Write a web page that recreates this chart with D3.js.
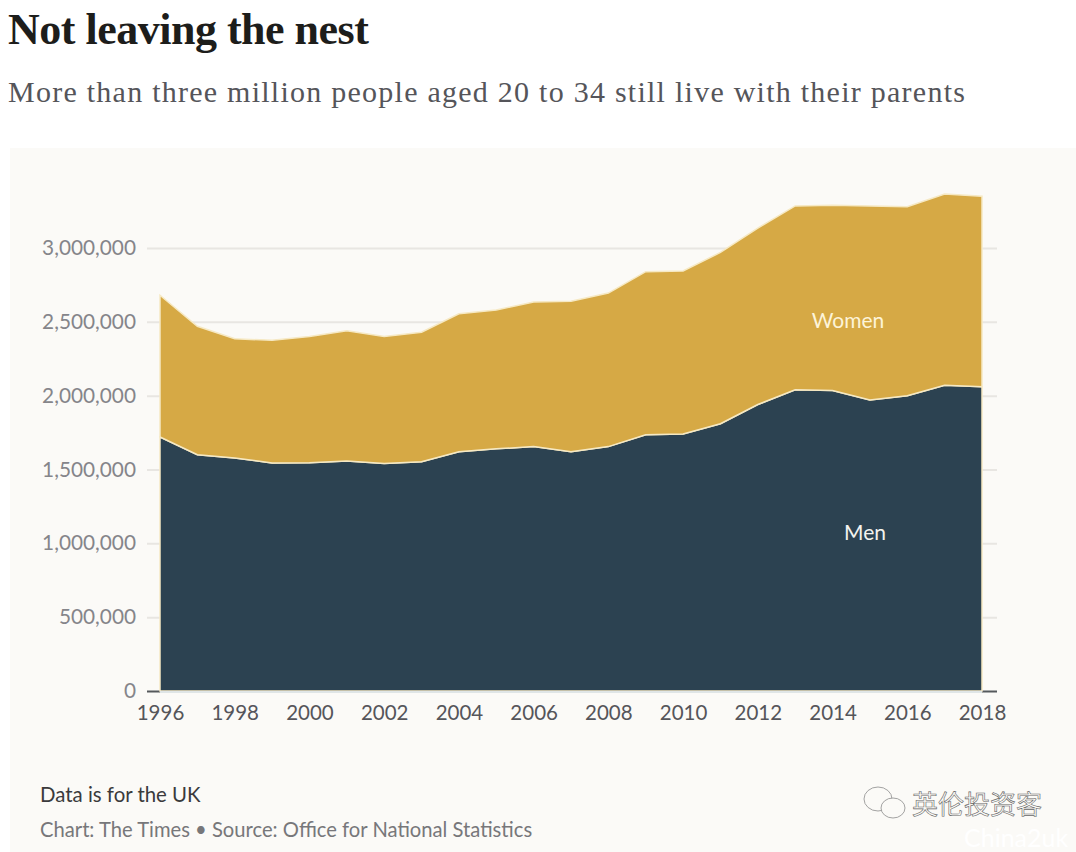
<!DOCTYPE html>
<html>
<head>
<meta charset="utf-8">
<script src="https://cdn.jsdelivr.net/npm/d3@7"></script>
<style>
  html, body { margin: 0; padding: 0; background: #fff; }
  svg { display: block; }
</style>
</head>
<body>
<div id="chart"></div>
<script>
const width = 1076;
const height = 852;

const years = [1996, 1997, 1998, 1999, 2000, 2001, 2002, 2003, 2004, 2005, 2006, 2007,
  2008, 2009, 2010, 2011, 2012, 2013, 2014, 2015, 2016, 2017, 2018];
const men = [1720000, 1600000, 1578000, 1544000, 1545000, 1557000, 1540000, 1553000,
  1620000, 1640000, 1655000, 1620000, 1655000, 1735000, 1740000, 1810000, 1940000,
  2040000, 2035000, 1970000, 2000000, 2070000, 2060000];
const women = [960000, 870000, 807000, 831000, 855000, 883000, 860000, 877000,
  935000, 940000, 980000, 1020000, 1040000, 1105000, 1105000, 1160000, 1195000,
  1245000, 1255000, 1315000, 1280000, 1295000, 1290000];
const yTicks = [0, 500000, 1000000, 1500000, 2000000, 2500000, 3000000];
const xTicks = [1996, 1998, 2000, 2002, 2004, 2006, 2008, 2010, 2012, 2014, 2016, 2018];

const rows = years.map((year, i) => ({ year, men: men[i], women: women[i] }));
const sans = "Lato, 'Open Sans', sans-serif";
const serif = "'Liberation Serif', serif";

const x = d3.scaleLinear().domain([1996, 2018]).range([160, 982]);
const y = d3.scaleLinear().domain([0, 3000000]).range([691, 248]);

const svg = d3.select("#chart").append("svg").attr("width", width).attr("height", height);

svg.append("rect")
  .attr("x", 10).attr("y", 148)
  .attr("width", width - 10).attr("height", height - 148)
  .attr("fill", "#fbfaf7");

svg.append("text")
  .attr("x", 8).attr("y", 44)
  .attr("font-family", serif).attr("font-weight", 700)
  .attr("font-size", 44).attr("letter-spacing", -0.5)
  .attr("fill", "#1d1d1b")
  .text("Not leaving the nest");

svg.append("text")
  .attr("x", 8).attr("y", 102)
  .attr("font-family", serif)
  .attr("font-size", 30).attr("letter-spacing", 1.25)
  .attr("fill", "#55555a")
  .text("More than three million people aged 20 to 34 still live with their parents");

// gridlines sit behind the areas, only the ends show
const yAxis = d3.axisLeft(y)
  .tickValues(yTicks)
  .tickSize(0)
  .tickPadding(11)
  .tickFormat(d3.format(","));

const gy = svg.append("g").attr("transform", "translate(147,0)").call(yAxis);
gy.select(".domain").remove();
gy.selectAll("text")
  .attr("font-family", sans).attr("font-size", 20.8)
  .attr("fill", "#85858a");
gy.selectAll(".tick").append("line")
  .attr("x1", 0).attr("x2", 850)
  .attr("stroke", (d) => (d === 0 ? "#55595c" : "#e8e6e2"))
  .attr("stroke-width", 2);

const stack = d3.stack().keys(["men", "women"]);
const series = stack(rows);

const area = d3.area()
  .x((d) => x(d.data.year))
  .y0((d) => y(d[0]))
  .y1((d) => y(d[1]));

svg.append("g")
  .selectAll("path")
  .data(series)
  .enter()
  .append("path")
  .attr("d", area)
  .attr("fill", (d) => (d.key === "men" ? "#2c4251" : "#d6a945"))
  .attr("stroke", "#f6e9c4")
  .attr("stroke-width", 1.5);

// redraw the bottom edge so the baseline stays pale under the dark area
svg.append("line")
  .attr("x1", x(1996)).attr("x2", x(2018))
  .attr("y1", y(0) + 1).attr("y2", y(0) + 1)
  .attr("stroke", "#dfe5e6")
  .attr("stroke-width", 2);

const xAxis = d3.axisBottom(x)
  .tickValues(xTicks)
  .tickSize(0)
  .tickPadding(14)
  .tickFormat(d3.format("d"));

const gx = svg.append("g").attr("transform", "translate(0,691)").call(xAxis);
gx.select(".domain").remove();
gx.selectAll("text")
  .attr("font-family", sans).attr("font-size", 20.5)
  .attr("fill", "#55555a");

svg.append("text")
  .attr("x", 848).attr("y", 328)
  .attr("text-anchor", "middle")
  .attr("font-family", sans).attr("font-size", 21)
  .attr("fill", "#fdf4d8")
  .text("Women");

svg.append("text")
  .attr("x", 865).attr("y", 540)
  .attr("text-anchor", "middle")
  .attr("font-family", sans).attr("font-size", 21)
  .attr("fill", "#f3f3ee")
  .text("Men");

svg.append("text")
  .attr("x", 40).attr("y", 802)
  .attr("font-family", sans).attr("font-size", 20.4)
  .attr("fill", "#3a3a3c")
  .text("Data is for the UK");

svg.append("text")
  .attr("x", 40).attr("y", 837)
  .attr("font-family", sans).attr("font-size", 20.2)
  .attr("fill", "#77777a")
  .text("Chart: The Times \u2022 Source: Office for National Statistics");

// watermark
const mark = svg.append("g").attr("fill", "#fbfaf7").attr("stroke", "#8b8b8b").attr("stroke-width", 0.8);
mark.append("ellipse").attr("cx", 878).attr("cy", 799).attr("rx", 14).attr("ry", 12);
mark.append("ellipse").attr("cx", 893).attr("cy", 808).attr("rx", 12).attr("ry", 10);

svg.append("text")
  .attr("x", 912).attr("y", 814)
  .attr("font-family", "'Noto Sans CJK SC', sans-serif").attr("font-size", 26)
  .attr("fill", "#fbfaf7").attr("stroke", "#666").attr("stroke-width", 0.6)
  .text("英伦投资客");

svg.append("text")
  .attr("x", 964).attr("y", 847)
  .attr("font-family", sans).attr("font-size", 25)
  .attr("fill", "#ffffff")
  .text("China2uk");
</script>
</body>
</html>
